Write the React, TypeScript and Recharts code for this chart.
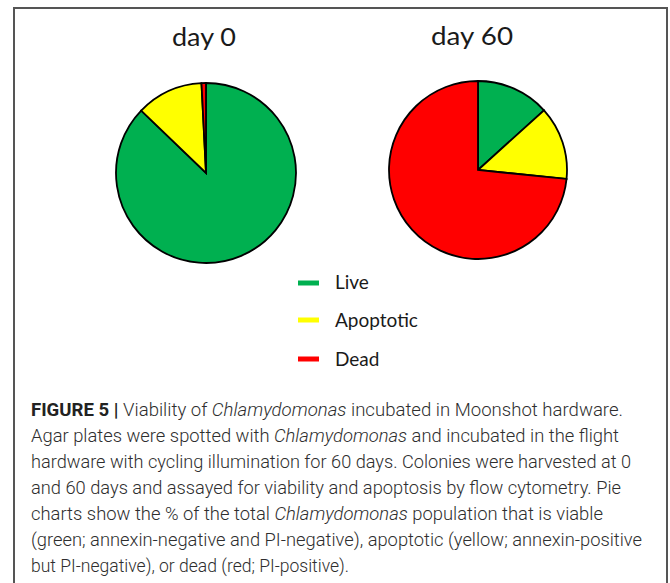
import React from "react";
import { PieChart, Pie, Cell, Legend } from "recharts";

const categories = ["Live", "Apoptotic", "Dead"];
const colors = ["#00B050", "#FFFF00", "#FF0000"];
const day0Values = [87.2, 12.0, 0.8];
const day60Values = [13.3, 13.3, 73.4];
const titles = ["day 0", "day 60"];

const day0Data = categories.map((name, i) => ({ name, value: day0Values[i] }));
const day60Data = categories.map((name, i) => ({ name, value: day60Values[i] }));

type Seg = { t: string; b?: boolean; i?: boolean };
const captionLines: { segs: Seg[]; len?: number }[] = [
  {
    segs: [
      { t: "FIGURE 5 | ", b: true },
      { t: "Viability of " },
      { t: "Chlamydomonas", i: true },
      { t: " incubated in Moonshot hardware." },
    ],
    len: 592,
  },
  {
    segs: [
      { t: "Agar plates were spotted with " },
      { t: "Chlamydomonas", i: true },
      { t: " and incubated in the flight" },
    ],
    len: 588,
  },
  {
    segs: [{ t: "hardware with cycling illumination for 60 days. Colonies were harvested at 0" }],
    len: 600,
  },
  {
    segs: [{ t: "and 60 days and assayed for viability and apoptosis by flow cytometry. Pie" }],
    len: 590,
  },
  {
    segs: [
      { t: "charts show the % of the total " },
      { t: "Chlamydomonas", i: true },
      { t: " population that is viable" },
    ],
    len: 572,
  },
  {
    segs: [{ t: "(green; annexin-negative and PI-negative), apoptotic (yellow; annexin-positive" }],
    len: 611,
  },
  {
    segs: [{ t: "but PI-negative), or dead (red; PI-positive)." }],
    len: 318,
  },
];

const LegendContent = () => (
  <svg width={200} height={110} style={{ display: "block" }}>
    {categories.map((c, i) => {
      const ly = [18, 55, 94][i];
      const by = [24, 62, 101][i];
      return (
        <g key={c}>
          <line x1={8} x2={29} y1={ly} y2={ly} stroke={colors[i]} strokeWidth={5} />
          <text x={45} y={by} fontFamily="Lato, 'Open Sans', sans-serif" fontSize={19} fill="#1a1a1a">
            {c}
          </text>
        </g>
      );
    })}
  </svg>
);

export default function App() {
  return (
    <div
      style={{
        position: "absolute",
        left: 0,
        top: 0,
        width: 670,
        height: 583,
        overflow: "hidden",
        background: "#fff",
      }}
    >
      <div
        style={{
          position: "absolute",
          left: 13,
          top: 7,
          width: 655,
          height: 640,
          boxSizing: "border-box",
          border: "2px solid #555",
        }}
      />
      <div style={{ position: "absolute", left: 0, top: 0 }}>
        <PieChart width={670} height={380} margin={{ top: 0, right: 0, bottom: 0, left: 0 }}>
          <Pie
            data={day0Data}
            dataKey="value"
            nameKey="name"
            cx={206}
            cy={173}
            outerRadius={90}
            startAngle={90}
            endAngle={-270}
            stroke="#000"
            strokeWidth={1.8}
            isAnimationActive={false}
          >
            {day0Data.map((d, i) => (
              <Cell key={d.name} fill={colors[i]} />
            ))}
          </Pie>
          <Pie
            data={day60Data}
            dataKey="value"
            nameKey="name"
            cx={478}
            cy={170}
            outerRadius={89}
            startAngle={90}
            endAngle={-270}
            stroke="#000"
            strokeWidth={1.8}
            isAnimationActive={false}
          >
            {day60Data.map((d, i) => (
              <Cell key={d.name} fill={colors[i]} />
            ))}
          </Pie>
          <Legend
            content={<LegendContent />}
            wrapperStyle={{ left: 290, top: 265, width: 200, height: 110 }}
          />
        </PieChart>
      </div>
      <svg
        width={670}
        height={583}
        style={{ position: "absolute", left: 0, top: 0, pointerEvents: "none" }}
      >
        <text
          x={172}
          y={46}
          textLength={64}
          lengthAdjust="spacingAndGlyphs"
          fontFamily="Lato, 'Open Sans', sans-serif"
          fontSize={25}
          fill="#1a1a1a"
        >
          {titles[0]}
        </text>
        <text
          x={431}
          y={45}
          textLength={82}
          lengthAdjust="spacingAndGlyphs"
          fontFamily="Lato, 'Open Sans', sans-serif"
          fontSize={25}
          fill="#1a1a1a"
        >
          {titles[1]}
        </text>
        {captionLines.map((line, li) => (
          <text
            key={li}
            x={31}
            y={416 + li * 26}
            textLength={line.len}
            lengthAdjust="spacingAndGlyphs"
            fontFamily="Roboto, sans-serif"
            fontWeight={300}
            fontSize={18.5}
            fill="#2e2e2e"
          >
            {line.segs.map((s, si) => (
              <tspan
                key={si}
                fontWeight={s.b ? 700 : 300}
                fontStyle={s.i ? "italic" : "normal"}
                fill={s.b ? "#222" : "#2e2e2e"}
              >
                {s.t}
              </tspan>
            ))}
          </text>
        ))}
      </svg>
    </div>
  );
}
